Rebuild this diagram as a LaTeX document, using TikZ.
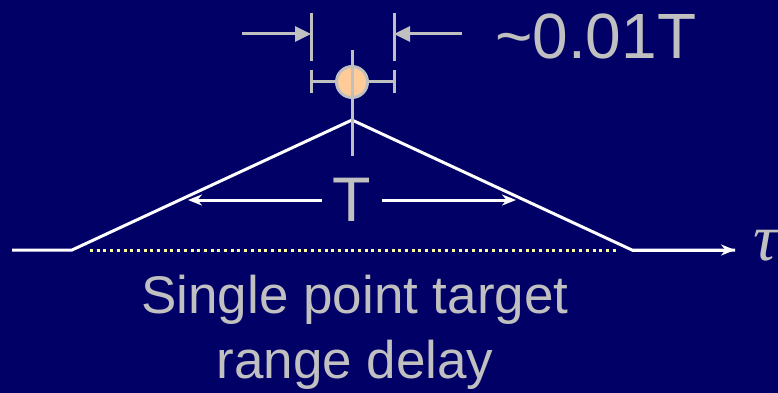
\documentclass[tikz,border=0pt]{standalone}
\usepackage{fontspec}
\setmainfont{Liberation Sans}
\newfontfamily\greekfont{Liberation Serif}
\usetikzlibrary{arrows.meta}
\definecolor{navy}{HTML}{000066}
\definecolor{lightgray}{HTML}{C0C0C0}
\definecolor{peach}{HTML}{FFCC99}
\definecolor{paleyellow}{HTML}{FFFF99}
\begin{document}
\begin{tikzpicture}[x=1pt,y=-1pt,
    pulse/.style={white, line width=3pt},
    marker/.style={lightgray, line width=3pt},
    label/.style={lightgray, inner sep=0pt}]
                % Background
                \fill[navy] (0,0) rectangle (778,393);
                \useasboundingbox (0,0) rectangle (778,393);

                % Points of the triangle
                \coordinate (start) at (12,250);
                \coordinate (left) at (72,250);
                \coordinate (apex) at (352,120);
                \coordinate (right) at (632,250);
                \coordinate (axisend) at (735,250);

                % Dotted base line
                \draw[paleyellow, line width=3pt, dash pattern=on 3pt off 3.7pt] (90,250) -- (616,250);

                % Triangle and time axis
                \draw[pulse, line join=miter] (start) -- (left) -- (apex) -- (right) -- (axisend);
                \draw[pulse, -{Stealth[length=14pt,width=11pt]}] (right) -- (axisend);
                \node[label, font=\fontsize{66}{66}\greekfont\itshape, anchor=west] (tau) at (753,246) {τ};

                % Width of the triangle
                \node[label, font=\fontsize{63}{63}\selectfont] (T) at (352,200) {T};
                \coordinate (tl) at (188,200);
                \coordinate (tr) at (516,200);
                \draw[pulse, -{Stealth[length=14pt,width=11pt]}] (322,200) -- (tl);
                \draw[pulse, -{Stealth[length=14pt,width=11pt]}] (382,200) -- (tr);

                % Target marker
                \draw[marker] (352,50) -- (352,156);
                \draw[marker] (311,82) -- (394,82);
                \draw[marker] (311,70) -- (311,93);
                \draw[marker] (394,70) -- (394,93);
                \node[circle, draw=lightgray, line width=3pt, fill=peach, minimum size=31pt, inner sep=0pt] (target) at (352,82) {};
                \draw[marker] (target.north) -- (target.south);

                % Resolution markers
                \coordinate (rl) at (311,34);
                \coordinate (rr) at (394,34);
                \draw[marker] (311,13) -- (311,61);
                \draw[marker] (394,13) -- (394,61);
                \draw[marker, -{Triangle[length=16pt,width=15pt]}] (242,34) -- (rl);
                \draw[marker, -{Triangle[length=16pt,width=15pt]}] (462,34) -- (rr);
                \node[label, font=\fontsize{64}{64}\selectfont, anchor=west] (res) at (495,36) {\textasciitilde0.01T};

                % Caption
                \node[label, font=\fontsize{53}{65}\selectfont, align=center] (caption) at (355,332) {Single point target\\range delay};
            \end{tikzpicture}
\end{document}
